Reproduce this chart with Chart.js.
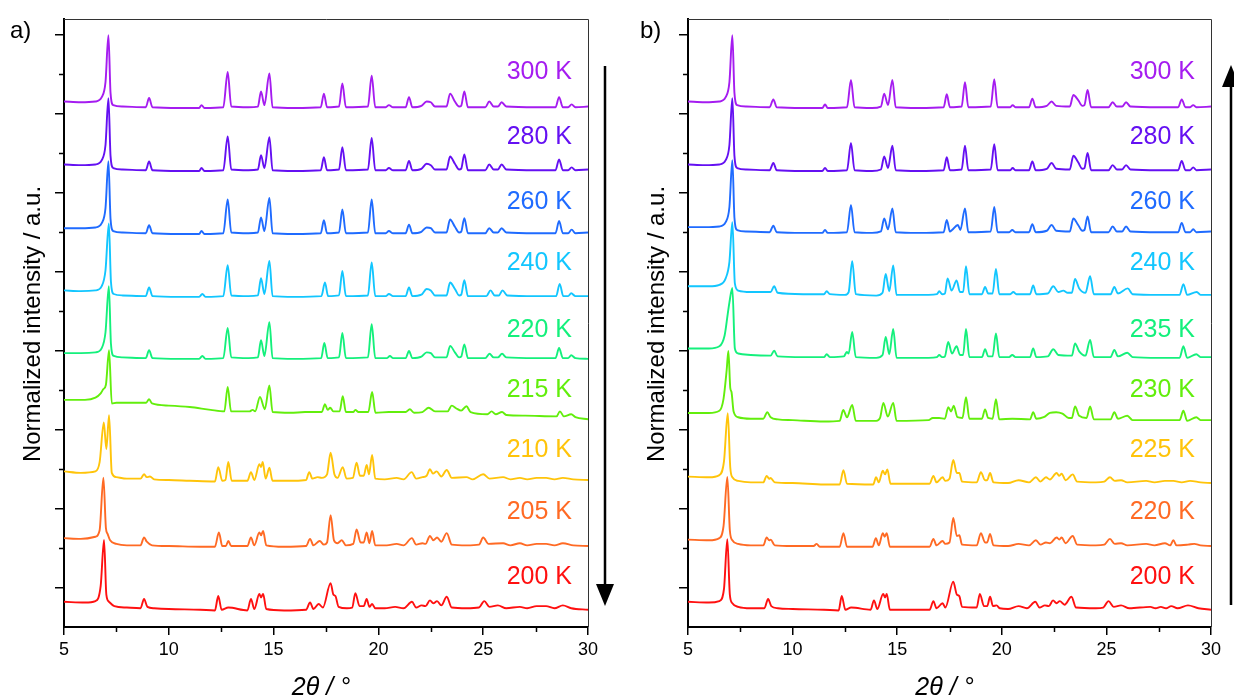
<!DOCTYPE html>
<html>
<head>
<meta charset="utf-8">
<script src="https://cdn.jsdelivr.net/npm/chart.js@4.4.1/dist/chart.umd.min.js"></script>
<style>
  html, body { margin: 0; padding: 0; background: #fff; }
  #wrap { position: relative; width: 1234px; height: 700px; overflow: hidden; }
  canvas { position: absolute; top: 0; }
  #panelA { left: 0; }
  #panelB { left: 617px; }
</style>
</head>
<body>
<div id="wrap">
  <canvas id="panelA" width="617" height="700"></canvas>
  <canvas id="panelB" width="617" height="700"></canvas>
</div>
<script>
// Axis ticks
const xMajor = [5, 10, 15, 20, 25, 30];
const xMinor = [7.5, 12.5, 17.5, 22.5, 27.5];
const yMajor = [0, 1, 2, 3, 4, 5, 6, 7];
const yMinor = [0.5, 1.5, 2.5, 3.5, 4.5, 5.5, 6.5];

// Temperatures (top to bottom)
const labelsA = ['300 K', '280 K', '260 K', '240 K', '220 K', '215 K', '210 K', '205 K', '200 K'];
const labelsB = ['300 K', '280 K', '260 K', '240 K', '235 K', '230 K', '225 K', '220 K', '200 K'];
const colorsA = ['#a51cf0', '#6410f2', '#1f6bff', '#12c6ff', '#14f07c', '#62ee0c', '#ffc40a', '#ff6a24', '#ff1010'];
const colorsB = ['#a51cf0', '#6410f2', '#1f6bff', '#12c6ff', '#14f07c', '#62ee0c', '#ffc40a', '#ff6a24', '#ff1010'];

// Stacking offsets of each pattern (axis units) and label levels
const offsetsA = [6.082, 5.285, 4.487, 3.690, 2.905, 2.222, 1.361, 0.525, -0.272];
const offsetsB = [6.082, 5.285, 4.500, 3.715, 2.918, 2.120, 1.323, 0.525, -0.272];
const labelLevels = [6.525, 5.703, 4.880, 4.108, 3.259, 2.500, 1.741, 0.956, 0.133];

// normalized intensity (main reflection ~100) -> axis units
const INT_UNIT = 0.72 / 79;

// ---- Panel a) cooling : [2theta, intensity]
const a300 = [[5,8],[5.8,7],[6.5,8],[6.8,14],[6.98,35],[7.12,100],[7.22,20],[7.35,3],[7.8,1],[8.9,0],[9.06,13],[9.22,0],[10.5,-1],[11.45,-1],[11.56,3],[11.7,-1],[12.6,0],[12.81,49],[12.98,1],[13.8,0],[14.25,1],[14.40,22],[14.56,3],[14.8,47],[14.95,0],[16,-1],[17.25,0],[17.40,19],[17.55,0],[18.12,1],[18.28,33],[18.45,0],[19.5,1],[19.68,44],[19.85,0],[20.35,0],[20.5,3],[20.7,0],[21.3,0],[21.46,14],[21.62,0],[22.05,2],[22.3,8],[22.5,7],[22.7,1],[23.25,1],[23.42,19],[23.65,8],[23.85,1],[23.95,2],[24.10,22],[24.27,0],[25.1,0],[25.29,8],[25.5,1],[25.7,1],[25.88,7],[26.1,1],[27.5,0],[28.45,0],[28.62,14],[28.8,0],[29.05,0],[29.22,4],[29.4,0],[30,1]];
const a280 = [[5,8],[5.8,7],[6.5,8],[6.8,14],[6.98,35],[7.12,100],[7.22,20],[7.35,3],[7.8,1],[8.9,0],[9.06,12],[9.22,0],[10.5,-1],[11.45,-1],[11.56,3],[11.7,-1],[12.6,0],[12.81,47],[12.98,1],[13.8,0],[14.25,1],[14.40,21],[14.56,3],[14.8,46],[14.95,0],[16,-1],[17.25,0],[17.40,18],[17.55,0],[18.12,1],[18.28,32],[18.45,0],[19.5,1],[19.68,45],[19.85,0],[20.35,0],[20.5,3],[20.7,0],[21.3,0],[21.46,13],[21.62,0],[22.05,2],[22.3,9],[22.5,7],[22.7,1],[23.25,1],[23.42,19],[23.65,9],[23.85,1],[23.95,2],[24.10,22],[24.27,0],[25.1,0],[25.29,8],[25.5,1],[25.7,1],[25.88,8],[26.1,1],[27.5,0],[28.45,0],[28.62,15],[28.8,0],[29.05,0],[29.22,4],[29.4,0],[30,1]];
const a260 = [[5,7],[5.8,7],[6.5,8],[6.8,14],[6.98,35],[7.12,100],[7.22,20],[7.35,3],[7.8,1],[8.9,0],[9.06,11],[9.22,0],[10.5,-1],[11.45,-1],[11.56,3],[11.7,-1],[12.6,0],[12.81,47],[12.98,1],[13.8,0],[14.25,1],[14.40,22],[14.56,3],[14.8,49],[14.95,0],[16,-1],[17.25,0],[17.40,18],[17.55,0],[18.12,1],[18.28,33],[18.45,0],[19.5,1],[19.68,47],[19.85,0],[20.35,0],[20.5,3],[20.7,0],[21.3,0],[21.46,12],[21.62,0],[22.05,2],[22.3,8],[22.5,7],[22.7,1],[23.25,1],[23.42,19],[23.65,9],[23.85,1],[23.95,2],[24.10,21],[24.27,0],[25.1,0],[25.29,7],[25.5,1],[25.7,1],[25.88,7],[26.1,1],[27.5,0],[28.45,0],[28.62,17],[28.8,0],[29.05,0],[29.22,5],[29.4,0],[30,1]];
const a240 = [[5,8],[5.8,7],[6.5,8],[6.8,14],[6.98,36],[7.14,101],[7.24,20],[7.37,3],[7.8,1],[8.9,0],[9.06,12],[9.22,0],[10.5,-1],[11.45,-1],[11.6,3],[11.75,-1],[12.6,0],[12.81,43],[12.98,1],[13.8,0],[14.25,1],[14.40,25],[14.56,3],[14.8,49],[14.95,0],[16,-1],[17.28,0],[17.45,19],[17.6,0],[18.12,1],[18.28,35],[18.45,0],[19.5,1],[19.68,47],[19.85,0],[20.35,0],[20.5,3],[20.7,0],[21.3,0],[21.46,12],[21.62,0],[22.05,2],[22.3,10],[22.5,8],[22.7,1],[23.25,1],[23.42,19],[23.65,10],[23.85,1],[23.95,2],[24.10,22],[24.27,0],[25.15,0],[25.35,8],[25.55,1],[25.75,1],[25.92,8],[26.15,1],[27.5,0],[28.48,0],[28.65,17],[28.82,0],[29.05,0],[29.2,4],[29.4,0],[30,0]];
const a220 = [[5,7],[5.8,7],[6.5,8],[6.8,14],[6.98,36],[7.14,100],[7.24,20],[7.37,3],[7.8,1],[8.9,0],[9.06,11],[9.22,0],[10.5,-1],[11.45,-1],[11.6,3],[11.75,-1],[12.6,0],[12.81,42],[12.98,1],[13.8,0],[14.25,1],[14.40,25],[14.56,3],[14.8,50],[14.95,0],[16,-1],[17.27,0],[17.42,21],[17.58,0],[18.12,1],[18.28,35],[18.45,0],[19.5,1],[19.68,47],[19.85,0],[20.4,0],[20.55,3],[20.7,0],[21.3,0],[21.46,10],[21.62,0],[22.05,2],[22.3,8],[22.5,7],[22.7,1],[23.25,1],[23.42,17],[23.65,8],[23.85,1],[23.95,2],[24.10,19],[24.27,0],[25.1,0],[25.3,6],[25.5,1],[25.7,1],[25.9,6],[26.1,1],[27.5,0],[28.45,0],[28.62,14],[28.8,0],[29.05,0],[29.2,4],[29.4,0],[30,-1]];
const a215 = [[5,17],[6.0,17],[6.5,20],[6.75,26],[6.88,32],[7.0,38],[7.15,86],[7.28,12],[7.5,13],[8.5,13],[8.92,13],[9.06,18],[9.2,12],[10,9],[11,7],[12,3],[12.65,1],[12.81,35],[12.97,1],[13.85,1],[14.0,3],[14.12,1],[14.35,21],[14.58,4],[14.8,37],[14.95,0],[15.8,-1],[16.5,0],[17.3,0],[17.45,11],[17.58,3],[17.7,6],[17.85,1],[18.15,1],[18.3,22],[18.45,0],[18.8,0],[18.9,3],[19.05,0],[19.52,0],[19.7,28],[19.86,-1],[20.5,0],[21.3,0],[21.5,4],[21.7,-1],[22.1,0],[22.4,6],[22.7,1],[23.3,1],[23.5,9],[23.72,5],[23.95,2],[24.2,8],[24.4,0],[25.2,-3],[25.4,1],[25.6,-3],[25.9,0],[26.1,-4],[27,-5],[28.5,-6],[28.66,1],[28.85,-6],[29.2,-3],[29.4,-7],[30,-10]];
const a210 = [[5,12],[5.8,10],[6.5,12],[6.7,25],[6.9,80],[7.02,43],[7.15,90],[7.28,10],[7.5,4],[8,2],[8.65,2],[8.82,8],[8.95,4],[9.1,5],[9.3,1],[10,0],[11,-1],[12.2,-2],[12.36,18],[12.55,-1],[12.7,0],[12.84,25],[13.0,-1],[13.75,-1],[13.92,11],[14.08,0],[14.32,22],[14.4,18],[14.48,25],[14.62,2],[14.8,17],[14.95,-1],[16.0,-1],[16.55,0],[16.7,11],[16.85,2],[17.1,4],[17.3,3],[17.55,8],[17.72,38],[17.9,8],[18.05,3],[18.3,18],[18.48,2],[18.78,3],[18.96,24],[19.12,6],[19.3,6],[19.44,21],[19.55,8],[19.7,35],[19.85,2],[20.3,1],[20.87,3],[21.2,1],[21.59,11],[21.8,2],[22.1,4],[22.3,6],[22.46,15],[22.6,9],[22.78,12],[23.0,5],[23.26,14],[23.5,3],[24.2,4],[24.5,1],[25.0,8],[25.3,2],[25.95,4],[26.3,1],[26.75,3],[27.1,1],[27.55,3],[28.0,3],[28.4,1],[28.8,3],[29.3,1],[30,0]];
const a205 = [[5,11],[5.8,10],[6.5,13],[6.7,22],[6.88,95],[7.0,25],[7.08,17],[7.2,8],[7.5,3],[8,1],[8.65,1],[8.82,12],[8.95,6],[9.2,1],[10,0],[11.5,-1],[12.2,-1],[12.39,19],[12.55,0],[12.72,0],[12.84,7],[12.98,0],[13.75,0],[13.92,12],[14.08,1],[14.32,19],[14.4,15],[14.5,21],[14.65,1],[15.5,-1],[16.55,0],[16.74,10],[16.9,1],[17.2,7],[17.4,2],[17.55,5],[17.72,43],[17.88,8],[18.05,4],[18.25,8],[18.45,1],[18.8,3],[18.96,23],[19.15,5],[19.3,5],[19.44,19],[19.57,4],[19.7,21],[19.85,1],[20.4,1],[20.87,3],[21.2,1],[21.6,11],[21.8,2],[22.1,4],[22.25,3],[22.46,14],[22.62,8],[22.8,12],[23.0,6],[23.26,18],[23.5,2],[24.2,1],[24.8,2],[25.0,12],[25.25,3],[25.95,4],[26.3,1],[26.75,4],[27.1,1],[27.55,3],[28.0,3],[28.4,1],[28.8,4],[29.3,1],[30,0]];
const a200 = [[5,10],[6.0,9],[6.5,11],[6.75,32],[6.91,96],[7.02,20],[7.15,10],[7.4,4],[8,2],[8.65,1],[8.82,14],[8.98,3],[9.3,1],[10,0],[11.5,-1],[12.2,-2],[12.36,18],[12.52,-1],[12.84,2],[13.75,-2],[13.92,14],[14.08,0],[14.32,21],[14.4,16],[14.5,21],[14.65,0],[15.5,-2],[16.55,-1],[16.74,9],[16.9,0],[17.15,7],[17.35,2],[17.72,36],[17.85,20],[17.95,18],[18.1,3],[18.5,1],[18.75,2],[18.9,22],[19.1,4],[19.3,4],[19.44,14],[19.57,3],[19.7,7],[19.85,1],[20.3,1],[20.8,3],[21.2,1],[21.6,10],[21.8,2],[22.06,5],[22.25,4],[22.46,12],[22.62,8],[22.8,11],[23.0,5],[23.26,17],[23.5,2],[24.2,1],[24.8,2],[25.05,11],[25.3,3],[25.7,5],[26.1,1],[26.75,3],[27.1,1],[27.55,4],[28.0,4],[28.4,1],[28.8,5],[29.2,1],[30,-1]];

// ---- Panel b) heating : [2theta, intensity]
const b300 = [[5,8],[5.8,7],[6.5,8],[6.8,14],[6.98,35],[7.12,100],[7.22,20],[7.35,3],[7.8,1],[8.9,0],[9.08,11],[9.24,0],[10.5,-1],[11.42,-1],[11.55,4],[11.68,-1],[12.6,0],[12.79,38],[12.96,0],[13.8,-1],[14.22,1],[14.38,19],[14.56,3],[14.77,38],[14.93,0],[16,-1],[17.22,0],[17.37,18],[17.52,0],[18.08,1],[18.24,35],[18.4,0],[19.47,1],[19.64,39],[19.8,0],[20.4,0],[20.52,3],[20.65,0],[21.3,0],[21.46,12],[21.62,0],[22.15,2],[22.38,8],[22.6,2],[23.25,1],[23.42,17],[23.65,10],[23.85,2],[23.95,3],[24.1,24],[24.27,0],[25.1,0],[25.3,7],[25.5,1],[25.75,1],[25.94,7],[26.15,1],[27.5,0],[28.43,0],[28.6,11],[28.78,0],[29.0,0],[29.15,3],[29.3,0],[30,1]];
const b280 = [[5,8],[5.8,7],[6.5,8],[6.8,14],[6.98,35],[7.12,100],[7.22,20],[7.35,3],[7.8,1],[8.9,0],[9.08,10],[9.24,0],[10.5,-1],[11.42,-1],[11.55,3],[11.68,-1],[12.6,0],[12.79,38],[12.96,0],[13.8,-1],[14.22,1],[14.38,19],[14.56,3],[14.77,34],[14.93,0],[16,-1],[17.22,0],[17.37,18],[17.52,0],[18.08,1],[18.24,34],[18.4,0],[19.47,1],[19.64,36],[19.8,0],[20.4,0],[20.52,3],[20.65,0],[21.3,0],[21.46,12],[21.62,0],[22.15,2],[22.38,10],[22.6,2],[23.25,1],[23.42,20],[23.65,11],[23.85,2],[23.95,3],[24.1,24],[24.27,0],[25.1,0],[25.3,7],[25.5,1],[25.75,1],[25.94,7],[26.15,1],[27.5,0],[28.43,0],[28.6,13],[28.78,0],[29.0,0],[29.15,4],[29.3,0],[30,1]];
const b260 = [[5,7],[5.8,7],[6.5,8],[6.8,14],[6.98,35],[7.12,100],[7.22,20],[7.35,3],[7.8,1],[8.9,0],[9.08,9],[9.24,0],[10.5,-1],[11.42,-1],[11.55,3],[11.68,-1],[12.6,0],[12.79,38],[12.96,0],[13.8,-1],[14.22,1],[14.38,19],[14.56,4],[14.77,33],[14.93,0],[16,-1],[17.22,0],[17.37,17],[17.52,1],[17.62,3],[17.9,10],[18.02,3],[18.24,33],[18.4,0],[19.47,1],[19.64,35],[19.8,0],[20.35,0],[20.5,3],[20.65,0],[21.3,0],[21.46,11],[21.62,0],[22.15,2],[22.38,10],[22.6,2],[23.25,1],[23.42,19],[23.65,10],[23.85,2],[23.95,3],[24.1,22],[24.27,0],[25.1,0],[25.3,8],[25.5,1],[25.75,1],[25.94,8],[26.15,1],[27.5,0],[28.43,0],[28.6,13],[28.78,0],[29.0,0],[29.15,4],[29.3,0],[30,1]];
const b240 = [[5,11],[6,11],[6.5,13],[6.8,22],[6.98,45],[7.12,100],[7.24,15],[7.4,5],[8,3],[8.95,3],[9.12,11],[9.28,2],[10.5,0],[11.5,0],[11.63,4],[11.78,0],[12.5,-1],[12.68,3],[12.85,46],[13.02,0],[14.0,-2],[14.3,2],[14.45,28],[14.62,4],[14.81,40],[14.97,-1],[16.5,-1],[16.9,0],[17.01,4],[17.15,0],[17.28,1],[17.41,22],[17.6,5],[17.84,19],[18.0,3],[18.15,3],[18.29,39],[18.45,0],[19.05,0],[19.2,10],[19.35,1],[19.56,1],[19.72,35],[19.88,0],[20.4,0],[20.55,3],[20.7,0],[21.35,0],[21.5,12],[21.65,0],[22.2,1],[22.46,11],[22.7,3],[22.94,5],[23.15,2],[23.35,2],[23.5,21],[23.7,8],[24.0,2],[24.22,25],[24.4,0],[25.2,0],[25.38,10],[25.55,1],[26.02,8],[26.25,0],[27.5,-1],[28.5,-1],[28.68,14],[28.86,-1],[29.32,3],[29.5,-1],[30,-1]];
const b235 = [[5,12],[6,12],[6.5,15],[6.75,30],[6.9,60],[6.98,76],[7.12,96],[7.24,12],[7.4,5],[8,3],[8.95,2],[9.12,9],[9.28,1],[10.5,0],[11.5,0],[11.63,4],[11.78,0],[12.45,1],[12.59,7],[12.68,5],[12.85,35],[13.02,0],[14.0,-1],[14.3,3],[14.45,28],[14.62,4],[14.81,39],[14.97,-1],[16.5,-1],[16.9,0],[17.01,3],[17.15,0],[17.28,1],[17.44,21],[17.62,5],[17.84,15],[18.0,3],[18.15,3],[18.29,39],[18.45,0],[19.05,0],[19.2,11],[19.35,1],[19.56,1],[19.72,33],[19.88,0],[20.35,0],[20.5,3],[20.65,0],[21.35,0],[21.5,12],[21.65,0],[22.2,1],[22.46,11],[22.7,3],[23.35,2],[23.5,19],[23.7,8],[24.0,2],[24.22,24],[24.4,0],[25.2,0],[25.38,10],[25.55,1],[26.0,6],[26.25,0],[27.5,-1],[28.5,-1],[28.68,15],[28.86,-1],[29.3,4],[29.5,0],[30,0]];
const b230 = [[5,10],[6,10],[6.5,13],[6.7,30],[6.85,70],[6.93,96],[7.02,45],[7.08,39],[7.18,12],[7.4,4],[8,2],[8.6,2],[8.79,11],[8.95,4],[9.3,1],[10,0],[11.5,-2],[12.25,-1],[12.42,14],[12.6,4],[12.85,21],[13.02,-1],[14.0,-1],[14.18,3],[14.34,24],[14.55,5],[14.81,24],[14.97,-1],[16.5,0],[16.7,3],[17.0,3],[17.28,2],[17.44,18],[17.58,12],[17.7,20],[17.88,4],[18.12,3],[18.29,32],[18.45,2],[19.05,2],[19.2,15],[19.35,3],[19.56,2],[19.72,29],[19.88,1],[20.5,2],[21.35,1],[21.5,11],[21.65,2],[22.0,4],[22.3,10],[22.6,11],[22.9,9],[23.2,3],[23.35,3],[23.5,19],[23.7,6],[24.05,3],[24.22,19],[24.4,1],[25.2,1],[25.38,11],[25.55,2],[26.0,6],[26.25,0],[27.5,0],[28.5,0],[28.68,13],[28.86,-1],[29.3,4],[29.5,0],[30,0]];
const b225 = [[5,9],[6,8],[6.5,11],[6.72,30],[6.9,97],[7.02,22],[7.12,8],[7.4,3],[8,1],[8.6,1],[8.76,10],[8.88,6],[8.95,7],[9.15,1],[10,0],[11.5,-2],[12.25,-2],[12.43,18],[12.6,-1],[13.85,-2],[13.99,8],[14.12,1],[14.31,17],[14.42,12],[14.53,19],[14.68,-1],[16.55,-1],[16.73,10],[16.88,1],[17.17,8],[17.3,3],[17.5,6],[17.68,32],[17.85,14],[17.97,14],[18.1,2],[18.8,1],[19.0,15],[19.2,4],[19.3,4],[19.44,14],[19.6,1],[20.3,0],[20.8,4],[21.3,1],[21.63,8],[21.85,2],[22.11,8],[22.3,5],[22.62,14],[22.75,10],[22.86,13],[23.05,4],[23.39,12],[23.6,2],[24.5,1],[24.9,2],[25.17,8],[25.4,3],[25.7,4],[26.0,1],[26.9,3],[27.3,1],[27.8,3],[28.2,3],[28.6,1],[29.0,3],[29.5,1],[30,0]];
const b220 = [[5,9],[6,8],[6.5,11],[6.7,28],[6.88,96],[7.0,22],[7.12,8],[7.4,3],[8,1],[8.6,1],[8.76,12],[8.88,8],[8.95,9],[9.15,1],[10,0],[11.0,0],[11.15,3],[11.3,-1],[12.25,-1],[12.43,18],[12.6,-1],[13.82,-1],[13.98,11],[14.12,1],[14.31,18],[14.4,13],[14.5,18],[14.65,-1],[16.55,-1],[16.73,10],[16.88,1],[17.17,7],[17.3,3],[17.5,5],[17.68,39],[17.85,14],[17.97,15],[18.1,2],[18.8,1],[19.0,18],[19.2,5],[19.3,5],[19.44,17],[19.6,1],[20.3,0],[20.8,3],[21.3,1],[21.63,8],[21.85,2],[22.11,5],[22.3,4],[22.62,12],[22.75,9],[22.86,12],[23.05,4],[23.39,14],[23.6,2],[24.5,1],[24.9,2],[25.17,10],[25.4,3],[25.7,4],[26.0,1],[26.9,3],[27.3,1],[27.8,4],[28.05,1],[28.2,8],[28.35,1],[28.9,2],[29.2,3],[29.5,1],[30,0]];
const b200 = [[5,10],[6,9],[6.5,11],[6.72,28],[6.88,97],[7.0,20],[7.12,8],[7.4,3],[8,1],[8.65,1],[8.83,14],[8.98,4],[9.3,1],[10,0],[11.5,-1],[12.2,-2],[12.35,18],[12.52,-1],[12.8,2],[13.73,-1],[13.89,12],[14.05,0],[14.33,21],[14.42,16],[14.5,21],[14.65,-1],[16.55,-1],[16.73,11],[16.88,1],[17.17,8],[17.3,2],[17.68,38],[17.85,20],[17.97,18],[18.1,3],[18.8,2],[18.95,21],[19.15,4],[19.3,4],[19.44,17],[19.58,4],[19.75,5],[19.9,1],[20.3,0],[20.8,4],[21.2,1],[21.6,10],[21.8,2],[22.06,5],[22.25,4],[22.45,12],[22.62,8],[22.77,11],[23.0,6],[23.33,17],[23.55,2],[24.5,1],[24.85,2],[25.1,11],[25.35,3],[25.7,5],[26.1,1],[27.1,3],[27.35,1],[27.6,3],[27.85,1],[28.1,4],[28.4,1],[28.9,5],[29.4,1],[30,-1]];

const tracesA = [a300, a280, a260, a240, a220, a215, a210, a205, a200];
const tracesB = [b300, b280, b260, b240, b235, b230, b225, b220, b200];

const FONT = "'Liberation Sans', Arial, Helvetica, sans-serif";

function buildSets(traces, offsets, colors) {
    return traces.map((tr, i) => ({
        data: tr.map(p => ({ x: p[0], y: offsets[i] + p[1] * INT_UNIT })),
        borderColor: colors[i],
        borderWidth: 1.9,
        pointRadius: 0,
        fill: false,
        cubicInterpolationMode: 'monotone'
    }));
}

// Frame, minor ticks, temperature labels, titles and arrow
const decor = {
    id: 'decor',
    afterDraw(chart, args, opts) {
        const ctx = chart.ctx;
        const ca = chart.chartArea;
        const xs = chart.scales.x, ys = chart.scales.y;
        ctx.save();

        // thin top / right frame
        ctx.strokeStyle = '#333';
        ctx.lineWidth = 1;
        ctx.beginPath();
        ctx.moveTo(ca.left, ca.top + 0.5);
        ctx.lineTo(ca.right + 0.5, ca.top + 0.5);
        ctx.lineTo(ca.right + 0.5, ca.bottom);
        ctx.stroke();

        // minor ticks
        ctx.strokeStyle = '#000';
        ctx.lineWidth = 1.5;
        ctx.beginPath();
        xMinor.forEach(v => {
            const px = Math.round(xs.getPixelForValue(v)) + 0.5;
            ctx.moveTo(px, ca.bottom);
            ctx.lineTo(px, ca.bottom + 5);
        });
        yMinor.forEach(v => {
            const py = Math.round(ys.getPixelForValue(v)) + 0.5;
            ctx.moveTo(ca.left - 5, py);
            ctx.lineTo(ca.left, py);
        });
        ctx.stroke();

        // temperature labels
        ctx.font = '25px ' + FONT;
        ctx.textAlign = 'right';
        ctx.textBaseline = 'middle';
        opts.labels.forEach((t, i) => {
            ctx.fillStyle = opts.colors[i];
            ctx.fillText(t, ca.right - 16, ys.getPixelForValue(labelLevels[i]));
        });

        // panel letter
        ctx.fillStyle = '#000';
        ctx.textAlign = 'left';
        ctx.font = '24px ' + FONT;
        ctx.fillText(opts.letter, opts.letterX, 31);

        // x title
        ctx.textAlign = 'center';
        ctx.font = 'italic 25px ' + FONT;
        ctx.fillText('2θ / °', (ca.left + ca.right) / 2 - 5, 688);

        // y title
        ctx.save();
        ctx.translate(opts.yTitleX, (ca.top + ca.bottom) / 2 + 1);
        ctx.rotate(-Math.PI / 2);
        ctx.font = '24px ' + FONT;
        ctx.fillText('Normalized intensity / a.u.', 0, 0);
        ctx.restore();

        // temperature direction arrow
        const ax = opts.arrowX;
        ctx.strokeStyle = '#000';
        ctx.fillStyle = '#000';
        ctx.lineWidth = 2.5;
        ctx.beginPath();
        if (opts.arrowDown) {
            ctx.moveTo(ax, 66);
            ctx.lineTo(ax, 590);
            ctx.stroke();
            ctx.beginPath();
            ctx.moveTo(ax - 9, 584);
            ctx.lineTo(ax + 9, 584);
            ctx.lineTo(ax, 606);
        } else {
            ctx.moveTo(ax, 605);
            ctx.lineTo(ax, 80);
            ctx.stroke();
            ctx.beginPath();
            ctx.moveTo(ax - 9, 87);
            ctx.lineTo(ax + 9, 87);
            ctx.lineTo(ax, 65);
        }
        ctx.closePath();
        ctx.fill();

        ctx.restore();
    }
};

function makePanel(id, traces, offsets, colors, labels, padLeft, padRight, extra) {
    const ctx = document.getElementById(id).getContext('2d');
    return new Chart(ctx, {
        type: 'line',
        data: { datasets: buildSets(traces, offsets, colors) },
        options: {
            responsive: false,
            animation: false,
            devicePixelRatio: 1,
            layout: { padding: { left: padLeft, right: padRight, top: 19, bottom: 0 } },
            scales: {
                x: {
                    type: 'linear',
                    min: 5,
                    max: 30,
                    afterBuildTicks: s => { s.ticks = xMajor.map(v => ({ value: v })); },
                    afterFit: s => { s.height = 73; },
                    grid: { drawOnChartArea: false, drawTicks: true, tickLength: 8, color: '#000', lineWidth: 1.5 },
                    border: { display: true, color: '#000', width: 2 },
                    ticks: {
                        autoSkip: false,
                        maxRotation: 0,
                        padding: 4,
                        color: '#000',
                        font: { family: FONT, size: 18 },
                        callback: v => String(v)
                    }
                },
                y: {
                    type: 'linear',
                    min: -0.5,
                    max: 7.2,
                    afterBuildTicks: s => { s.ticks = yMajor.map(v => ({ value: v })); },
                    afterFit: s => { s.width = 10; },
                    grid: { drawOnChartArea: false, drawTicks: true, tickLength: 9, color: '#000', lineWidth: 1.5 },
                    border: { display: true, color: '#000', width: 2 },
                    ticks: { display: false }
                }
            },
            plugins: {
                legend: { display: false },
                tooltip: { enabled: false },
                decor: Object.assign({ labels: labels, colors: colors }, extra)
            }
        },
        plugins: [decor]
    });
}

document.addEventListener('DOMContentLoaded', function() {
    // panel a: plot area x 64..588
    makePanel('panelA', tracesA, offsetsA, colorsA, labelsA, 54, 29,
        { letter: 'a)', letterX: 10, yTitleX: 33, arrowX: 605, arrowDown: true });
    // panel b: plot area x 688..1211 (canvas starts at 617)
    makePanel('panelB', tracesB, offsetsB, colorsB, labelsB, 61, 23,
        { letter: 'b)', letterX: 23, yTitleX: 40, arrowX: 614, arrowDown: false });
});
</script>
</body>
</html>
